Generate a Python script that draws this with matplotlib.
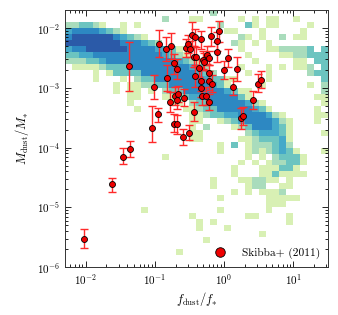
import numpy as np
import matplotlib
matplotlib.use('Agg')
import matplotlib.pyplot as plt
from matplotlib.colors import ListedColormap, BoundaryNorm

# background 2D histogram, 0.1 dex bins, rows from top (log y = -1.7) down to -6.0
# columns from log x = -2.3 to 1.5 ; '.' = empty, 1..6 = density level
hist_rows = [
    "..........|..........|.2........|........",
    "..........|....2...11|.....1.1.1|1..1....",
    "223321..1.|1.........|..2...31.1|1....1..",
    "455554321.|..........|...11...1.|....1...",
    "5666666543|21........|.....21.1.|.2.11...",
    "6666666655|5432......|....21.1.1|........",
    "4556666665|5554431...|.....1...1|122223.3",
    "3344555555|55554321..|......1...|.1122333",
    "2223345555|5555554321|.......1..|...11.33",
    ".111123335|5555555543|2....1...1|.1.112.3",
    "....1.1333|3555555554|32....1..1|.....233",
    "....1...1.|2335555555|43311....1|.......3",
    ".......1.1|1223355555|5431....1.|.....1.2",
    ".......1.1|1.1.233555|5554311...|.......2",
    ".........1|1...112344|5555531...|......11",
    ".........1|.....11.23|355555421.|.......1",
    "..........|1......112|3355555431|......1.",
    "..........|........11|2334455554|21....11",
    "..........|........11|..12345555|421...1.",
    "..........|........1.|2...123555|431.....",
    "..........|........11|......2344|431....1",
    "..........|........11|.....11233|341.....",
    "..........|..........|..1.3.1222|342.....",
    "..........|..........|..1...1212|3431...1",
    "..........|....1.....|......1.1.|23331...",
    "..........|..........|.....1.1.1|22331...",
    "..........|..........|....1...11|1331....",
    "..........|..........|....1...11|31111...",
    "..........|..........|.1...11221|1.1.....",
    "..........|..........|.1....122.|.11.....",
    "..........|..........|....1.1.11|12......",
    "..........|..........|..1......1|1111....",
    "..........|..........|.........1|11......",
    "..........|.1........|..1......1|........",
    "..........|........1.|......11..|..1.....",
    "..........|.........1|.1........|..1.....",
    "..........|.........1|...1......|........",
    "..........|..........|........1.|........",
    "..........|..........|1.........|........",
    "..........|..........|..........|........",
    "..........|......1...|..........|........",
    "..........|..........|..........|........",
    "..........|..........|..........|........",
]
log_x_min, log_x_max = -2.3, 1.5
log_y_min, log_y_max = -6.0, -1.7

# Skibba+ (2011) points
f_ratio = [0.0095, 0.024, 0.035, 0.0435, 0.043, 0.091, 0.0975, 0.11, 0.115, 0.147,
           0.152, 0.164, 0.173, 0.187, 0.189, 0.195, 0.207, 0.209, 0.211, 0.218,
           0.252, 0.261, 0.279, 0.301, 0.311, 0.318, 0.348, 0.363, 0.363, 0.376,
           0.397, 0.38, 0.439, 0.464, 0.469, 0.47, 0.48, 0.49, 0.51, 0.547,
           0.565, 0.597, 0.6, 0.61, 0.615, 0.638, 0.66, 0.796, 0.796, 0.851,
           1.0, 1.15, 1.35, 1.56, 1.75, 1.9, 2.65, 3.1, 3.47]
m_ratio = [3.0e-6, 2.42e-5, 7.08e-5, 9.62e-5, 2.33e-3, 2.16e-4, 1.05e-3, 3.59e-4, 5.41e-3, 4.47e-3,
           1.45e-3, 5.84e-4, 5.08e-3, 2.58e-3, 2.51e-4, 7.27e-4, 2.05e-3, 6.15e-4, 2.45e-4, 7.94e-4,
           1.51e-4, 6.73e-4, 4.58e-3, 5.41e-3, 1.75e-4, 4.47e-3, 7.74e-3, 3.93e-4, 3.24e-3, 1.55e-3,
           3.24e-3, 6.99e-3, 2.13e-3, 6.47e-3, 1.32e-3, 1.0e-3, 7.18e-4, 2.93e-3, 2.75e-3, 7.18e-4,
           3.59e-3, 1.32e-3, 1.78e-3, 5.77e-4, 3.16e-3, 7.36e-3, 1.17e-3, 6.0e-3, 3.93e-3, 8.8e-3,
           2.0e-3, 3.16e-3, 1.03e-3, 2.07e-3, 3.16e-4, 3.33e-4, 6.31e-4, 1.17e-3, 1.36e-3]
m_low = [2.07e-6, 1.8e-5, 5.27e-5, 6.99e-5, 9.0e-4, 1.24e-4, 6.4e-4, 2.68e-4, 3.33e-3, 2.86e-3,
         8.7e-4, 3.93e-4, 3.04e-3, 1.71e-3, 1.82e-4, 5.08e-4, 1.41e-3, 4.47e-4, 1.71e-4, 5.77e-4,
         1.09e-4, 4.89e-4, 3.24e-3, 3.78e-3, 1.32e-4, 3.24e-3, 5.08e-3, 2.78e-4, 2.21e-3, 1.03e-3,
         2.21e-3, 4.77e-3, 1.51e-3, 4.47e-3, 9.0e-4, 6.99e-4, 5.08e-4, 2.07e-3, 1.95e-3, 5.08e-4,
         2.51e-3, 9.27e-4, 1.24e-3, 4.19e-4, 2.36e-3, 5.08e-3, 8.5e-4, 4.19e-3, 2.68e-3, 5.77e-3,
         1.41e-3, 2.21e-3, 7.45e-4, 1.32e-3, 2.07e-4, 2.35e-4, 4.47e-4, 8.5e-4, 1.0e-3]
m_high = [4.3e-6, 3.12e-5, 1.0e-4, 1.29e-4, 5.77e-3, 4.89e-4, 1.63e-3, 4.64e-4, 9.26e-3, 6.99e-3,
          2.45e-3, 8.5e-4, 8.15e-3, 3.69e-3, 3.69e-4, 1.05e-3, 3.04e-3, 8.5e-4, 3.46e-4, 1.09e-3,
          2.07e-4, 9.62e-4, 6.56e-3, 7.74e-3, 2.35e-4, 6.15e-3, 1.24e-2, 5.77e-4, 5.08e-3, 2.36e-3,
          4.77e-3, 9.62e-3, 3.04e-3, 9.03e-3, 1.95e-3, 1.41e-3, 1.0e-3, 4.19e-3, 3.78e-3, 1.03e-3,
          5.08e-3, 1.9e-3, 2.36e-3, 7.94e-4, 4.19e-3, 1.03e-2, 1.61e-3, 8.47e-3, 5.77e-3, 1.33e-2,
          2.86e-3, 4.47e-3, 1.47e-3, 3.24e-3, 4.64e-4, 4.77e-4, 9.0e-4, 1.67e-3, 1.9e-3]

plt.rcParams['font.family'] = 'serif'
plt.rcParams['font.serif'] = ['cmr10', 'DejaVu Serif']
plt.rcParams['mathtext.fontset'] = 'cm'
plt.rcParams['axes.formatter.use_mathtext'] = True
plt.rcParams['axes.unicode_minus'] = False

fig = plt.figure(figsize=(3.38, 3.15), dpi=100)
ax = fig.add_axes([0.192, 0.152, 0.778, 0.816])

# build the histogram grid (top row first in the strings -> flip)
grid = np.array([[0 if c == '.' else int(c) for c in r.replace('|', '')] for r in hist_rows])[::-1]
grid = np.ma.masked_equal(grid, 0)
ny, nx = grid.shape
x_edges = np.logspace(log_x_min, log_x_max, nx + 1)
y_edges = np.logspace(log_y_min, log_y_max, ny + 1)
cmap = ListedColormap(['#d8f0b4', '#a9dcbc', '#6cc4c0', '#45a9c9', '#2d88c2', '#2b5aa8'])
norm = BoundaryNorm(np.arange(0.5, 7.5, 1), cmap.N)
ax.pcolormesh(x_edges, y_edges, grid, cmap=cmap, norm=norm, zorder=1)

f_ratio = np.array(f_ratio)
m_ratio = np.array(m_ratio)
yerr = [m_ratio - np.array(m_low), np.array(m_high) - m_ratio]
ax.errorbar(f_ratio, m_ratio, yerr=yerr, fmt='none', ecolor='#ff2a2a', elinewidth=1.0,
            capsize=2.8, capthick=1.0, zorder=3)
ax.plot(f_ratio, m_ratio, 'o', color='#ee0000', mec='black', mew=0.6, ms=4.3, ls='none',
        zorder=4, label='Skibba+ (2011)')

ax.set_xscale('log')
ax.set_yscale('log')
ax.set_xlim(10**log_x_min, 10**log_x_max)
ax.set_ylim(10**log_y_min, 10**log_y_max)
ax.set_xlabel(r'$f_{\rm dust}/f_{*}$', fontsize=9, labelpad=2)
ax.set_ylabel(r'$M_{\rm dust}/M_{*}$', fontsize=9, labelpad=4)

ax.tick_params(which='both', direction='in', top=True, right=True, labelsize=8, width=0.6)
ax.tick_params(which='major', length=4)
ax.tick_params(which='minor', length=2)
for s in ax.spines.values():
    s.set_linewidth(0.7)
    s.set_color('#333333')

leg = ax.legend(loc='lower right', frameon=False, fontsize=8.2, markerscale=1.6,
                handletextpad=0.9, borderaxespad=0.3)

fig.savefig('out.png', dpi=100)
plt.close(fig)
